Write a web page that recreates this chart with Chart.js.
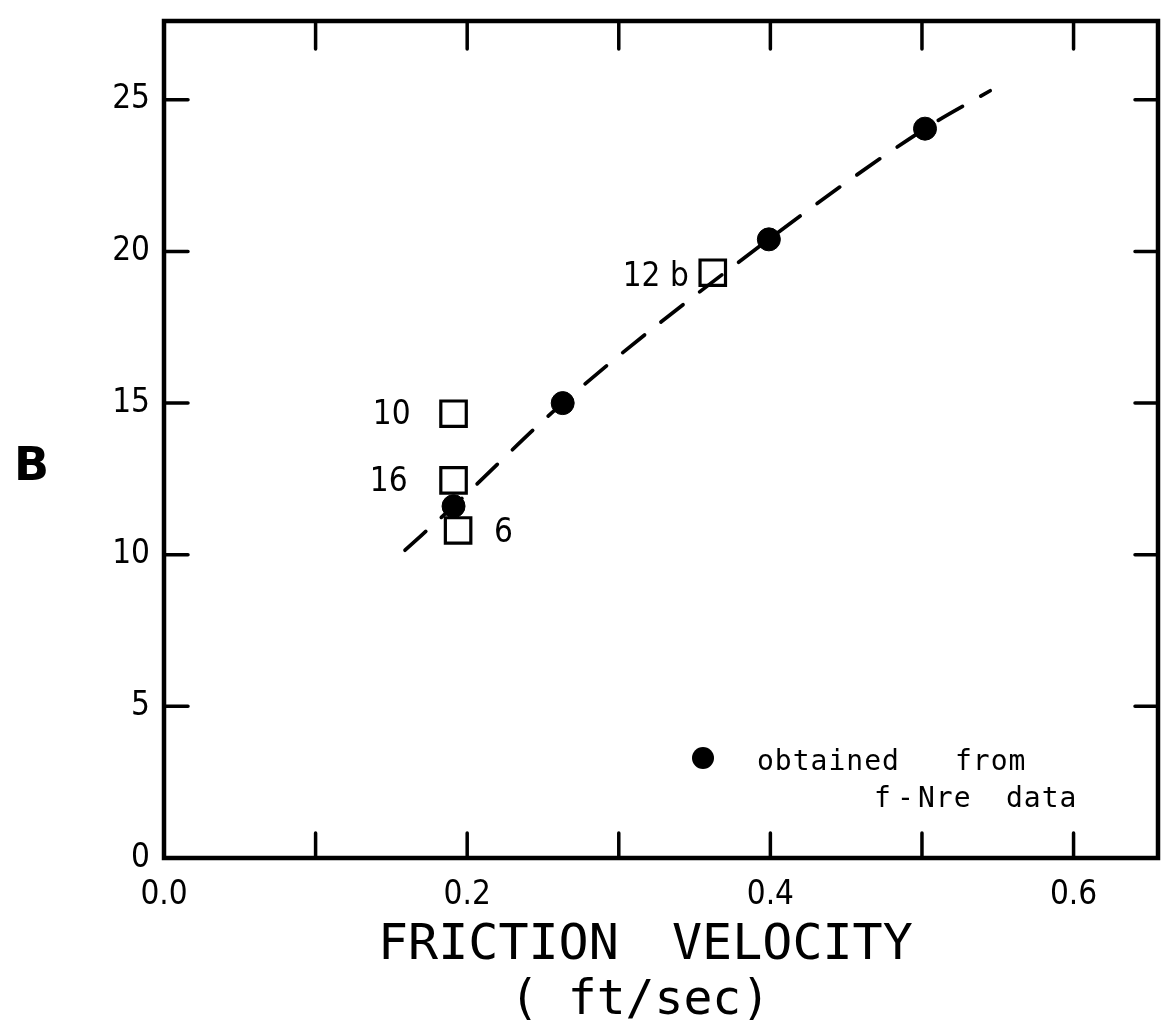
<!DOCTYPE html>
<html>
<head>
<meta charset="utf-8">
<script src="https://cdn.jsdelivr.net/npm/chart.js@4/dist/chart.umd.min.js"></script>
<style>
  html, body { margin: 0; padding: 0; background: #fff; }
  #wrap { width: 1168px; height: 1025px; }
</style>
</head>
<body>
<div id="wrap"><canvas id="c" width="1168" height="1025"></canvas></div>
<script>
// B values obtained from f - Nre data
const frictionVelocity = [0.191, 0.263, 0.399, 0.502];
const bFromFriction = [11.6, 15.0, 20.4, 24.05];

// individual runs (open squares) and their run numbers
const runVelocity = [0.191, 0.191, 0.194, 0.362];
const runB = [14.65, 12.45, 10.8, 19.3];
const runLabels = ['10', '16', '6', '12 b'];

// dashed trend through the f - Nre points
const trendVelocity = [0.159, 0.191, 0.263, 0.399, 0.502, 0.545];
const trendB = [10.15, 11.6, 15.0, 20.4, 24.05, 25.3];

// axis ticks
const xTickValues = [0, 0.1, 0.2, 0.3, 0.4, 0.5, 0.6];
const xTickLabels = ['0.0', '', '0.2', '', '0.4', '', '0.6'];
const yTickValues = [0, 5, 10, 15, 20, 25];
const yTickLabels = ['0', '5', '10', '15', '20', '25'];

// label placement for the run numbers: [dx, dy, align]
const runLabelPlacement = [[-43, 2, 'right'], [-46, 2, 'right'], [36, 3, 'left'], [-24, 5, 'right']];

const tickFont = { family: "'DejaVu Sans Condensed', 'DejaVu Sans', sans-serif", size: 33 };

const framePlugin = {
  id: 'frame',
  afterDatasetsDraw(chart) {
    const { ctx, chartArea: a, scales: { x, y } } = chart;
    ctx.save();
    ctx.strokeStyle = '#000';
    ctx.lineCap = 'round';
    ctx.lineWidth = 4.5;
    ctx.strokeRect(a.left, a.top, a.right - a.left, a.bottom - a.top);
    ctx.lineWidth = 3.5;
    ctx.beginPath();
    xTickValues.forEach(v => {
      if (v === 0) return;
      const px = x.getPixelForValue(v);
      ctx.moveTo(px, a.bottom); ctx.lineTo(px, a.bottom - 25);
      ctx.moveTo(px, a.top); ctx.lineTo(px, a.top + 28);
    });
    yTickValues.forEach(v => {
      if (v === 0) return;
      const py = y.getPixelForValue(v);
      ctx.moveTo(a.left, py); ctx.lineTo(a.left + 24, py);
      ctx.moveTo(a.right, py); ctx.lineTo(a.right - 23, py);
    });
    ctx.stroke();
    ctx.restore();
  },
  afterDraw(chart) {
    const { ctx, scales: { x, y } } = chart;
    ctx.save();
    ctx.fillStyle = '#000';
    ctx.textBaseline = 'alphabetic';

    // axis titles
    ctx.font = "bold 46px 'DejaVu Sans', sans-serif";
    ctx.textAlign = 'left';
    ctx.fillText('B', 14, 480);

    ctx.font = "50px 'DejaVu Sans Mono', monospace";
    ctx.fillText('FRICTION', 378, 959);
    ctx.fillText('VELOCITY', 672, 959);
    ctx.font = "48px 'DejaVu Sans Mono', monospace";
    ctx.fillText('( ft/sec)', 510, 1014);

    // run numbers beside the open squares
    ctx.font = "33px 'DejaVu Sans Condensed', 'DejaVu Sans', sans-serif";
    ctx.textBaseline = 'middle';
    runLabels.forEach((t, i) => {
      const [dx, dy, align] = runLabelPlacement[i];
      ctx.textAlign = align;
      ctx.fillText(t, x.getPixelForValue(runVelocity[i]) + dx, y.getPixelForValue(runB[i]) + dy);
    });

    // key
    ctx.beginPath();
    ctx.arc(703, 758, 11, 0, Math.PI * 2);
    ctx.fill();
    ctx.textAlign = 'left';
    ctx.textBaseline = 'alphabetic';
    ctx.font = "28px 'DejaVu Sans Mono', monospace";
    ctx.letterSpacing = '1px';
    [['obtained', 757, 770], ['from', 955, 770], ['f', 874, 807], ['-', 897, 807], ['Nre', 918, 807], ['data', 1006, 807]]
      .forEach(([t, px, py]) => ctx.fillText(t, px, py));
    ctx.restore();
  }
};

new Chart(document.getElementById('c'), {
  type: 'scatter',
  data: {
    datasets: [
      {
        data: runVelocity.map((v, i) => ({ x: v, y: runB[i] })),
        pointStyle: 'rect',
        pointRadius: 18,
        backgroundColor: 'rgba(0,0,0,0)',
        borderColor: '#000',
        borderWidth: 3.2,
        order: 3
      },
      {
        type: 'line',
        data: trendVelocity.map((v, i) => ({ x: v, y: trendB[i] })),
        borderColor: '#000',
        borderWidth: 3.7,
        borderDash: [28, 21],
        borderCapStyle: 'round',
        pointRadius: 0,
        fill: false,
        cubicInterpolationMode: 'monotone',
        order: 2
      },
      {
        data: frictionVelocity.map((v, i) => ({ x: v, y: bFromFriction[i] })),
        pointStyle: 'circle',
        pointRadius: 11.5,
        backgroundColor: '#000',
        borderColor: '#000',
        borderWidth: 1,
        order: 1
      }
    ]
  },
  options: {
    responsive: false,
    animation: false,
    devicePixelRatio: 1,
    layout: { autoPadding: false, padding: { left: 0, right: 10, top: 21, bottom: 0 } },
    plugins: { legend: { display: false }, tooltip: { enabled: false } },
    scales: {
      x: {
        type: 'linear',
        min: 0,
        max: 0.6557,
        afterBuildTicks: s => { s.ticks = xTickValues.map(v => ({ value: v })); },
        afterFit: s => { s.height = 1025 - 858; s.paddingLeft = 0; s.paddingRight = 0; },
        ticks: { callback: (v, i) => xTickLabels[i], font: tickFont, color: '#000', padding: 18, maxRotation: 0, autoSkip: false },
        grid: { display: false, drawTicks: false },
        border: { display: false }
      },
      y: {
        type: 'linear',
        min: 0,
        max: 27.6,
        afterBuildTicks: s => { s.ticks = yTickValues.map(v => ({ value: v })); },
        afterFit: s => { s.width = 164; s.paddingTop = 0; s.paddingBottom = 0; },
        ticks: { callback: (v, i) => yTickLabels[i], font: tickFont, color: '#000', padding: 14, autoSkip: false },
        grid: { display: false, drawTicks: false },
        border: { display: false }
      }
    }
  },
  plugins: [framePlugin]
});
</script>
</body>
</html>
